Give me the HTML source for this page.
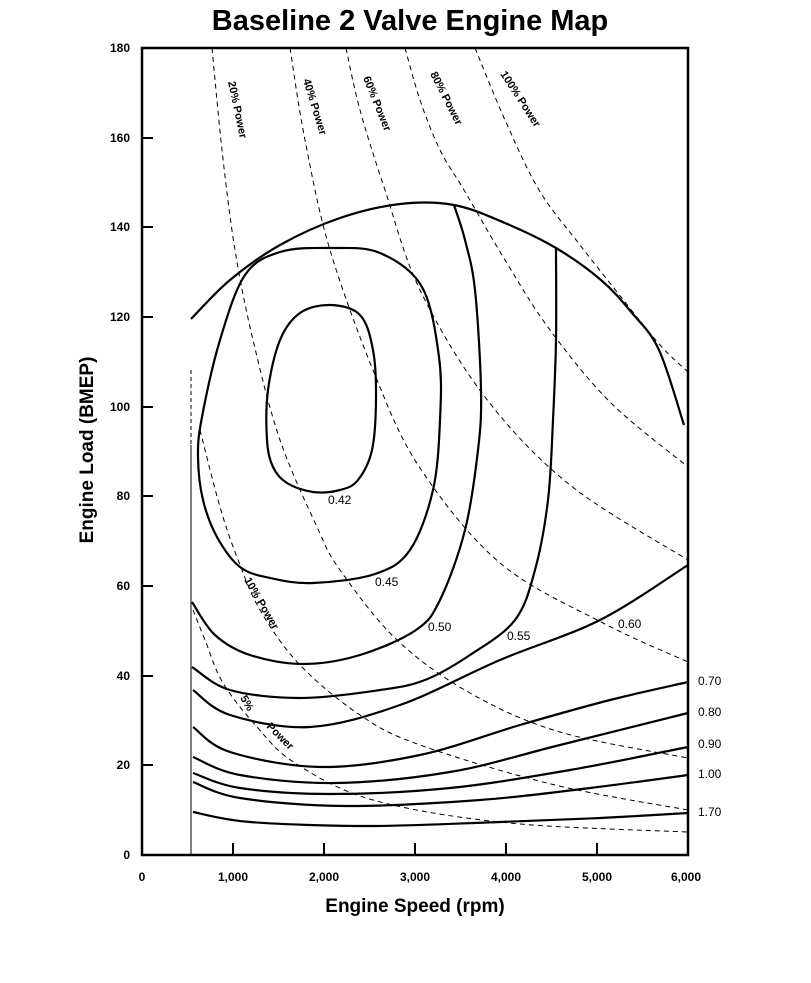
<!DOCTYPE html>
<html><head><meta charset="utf-8"><style>
html,body{margin:0;padding:0;background:#fff;}
svg{display:block;font-family:"Liberation Sans",Arial,sans-serif;}
</style></head><body>
<svg id="s" width="811" height="983" viewBox="0 0 811 983" xmlns="http://www.w3.org/2000/svg">
<rect width="811" height="983" fill="#fff"/>
<text x="410" y="30" font-size="29" font-weight="bold" text-anchor="middle">Baseline 2 Valve Engine Map</text>
<rect x="142" y="48" width="546" height="807" fill="none" stroke="#000" stroke-width="2.5"/>
<g stroke="#000" stroke-width="2">
<line x1="233" y1="855" x2="233" y2="843"/><line x1="324" y1="855" x2="324" y2="843"/>
<line x1="415" y1="855" x2="415" y2="843"/><line x1="506" y1="855" x2="506" y2="843"/>
<line x1="597" y1="855" x2="597" y2="843"/>
<line x1="142" y1="765" x2="153" y2="765"/><line x1="142" y1="676" x2="153" y2="676"/>
<line x1="142" y1="586" x2="153" y2="586"/><line x1="142" y1="496" x2="153" y2="496"/>
<line x1="142" y1="407" x2="153" y2="407"/><line x1="142" y1="317" x2="153" y2="317"/>
<line x1="142" y1="227" x2="153" y2="227"/><line x1="142" y1="138" x2="153" y2="138"/>
</g>
<g font-size="12" font-weight="bold" text-anchor="end">
<text x="130" y="859">0</text><text x="130" y="769">20</text><text x="130" y="680">40</text>
<text x="130" y="590">60</text><text x="130" y="500">80</text><text x="130" y="411">100</text>
<text x="130" y="321">120</text><text x="130" y="231">140</text><text x="130" y="142">160</text>
<text x="130" y="52">180</text>
</g>
<g font-size="12" font-weight="bold" text-anchor="middle">
<text x="142" y="881">0</text><text x="233" y="881">1,000</text><text x="324" y="881">2,000</text>
<text x="415" y="881">3,000</text><text x="506" y="881">4,000</text><text x="597" y="881">5,000</text>
<text x="686" y="881">6,000</text>
</g>
<text x="415" y="912" font-size="19" font-weight="bold" text-anchor="middle">Engine Speed (rpm)</text>
<text transform="translate(93,450) rotate(-90)" font-size="19" font-weight="bold" text-anchor="middle">Engine Load (BMEP)</text>
<line x1="191" y1="445" x2="191" y2="855" stroke="#000" stroke-width="1"/>
<line x1="191" y1="370" x2="191" y2="445" stroke="#000" stroke-width="1" stroke-dasharray="4,3"/>
<g id="dashed" fill="none" stroke="#000" stroke-width="1" stroke-dasharray="5,4"></g>
<g id="solid" fill="none" stroke="#000" stroke-width="2.2"></g>
<g font-size="12">
<text x="328" y="504">0.42</text><text x="375" y="586">0.45</text><text x="428" y="631">0.50</text>
<text x="507" y="640">0.55</text><text x="618" y="628">0.60</text>
<text x="698" y="685">0.70</text><text x="698" y="716">0.80</text><text x="698" y="748">0.90</text>
<text x="698" y="778">1.00</text><text x="698" y="816">1.70</text>
</g>
<g font-size="11" font-weight="bold">
<text transform="translate(228,82) rotate(78)">20% Power</text>
<text transform="translate(303,80) rotate(73)">40% Power</text>
<text transform="translate(363,78) rotate(68)">60% Power</text>
<text transform="translate(430,74) rotate(63)">80% Power</text>
<text transform="translate(500,74) rotate(57)">100% Power</text>
<text transform="translate(244,580) rotate(60)">10% Power</text>
<text transform="translate(240,698) rotate(60)">5%</text>
<text transform="translate(266,727) rotate(45)">Power</text>
</g>
</svg>
<script>
function cr(p,closed){
  var n=p.length,d="M"+p[0][0]+","+p[0][1];
  var get=function(i){ if(closed) return p[(i+n)%n]; return p[Math.max(0,Math.min(n-1,i))]; };
  var m=closed?n:n-1;
  for(var i=0;i<m;i++){
    var p0=get(i-1),p1=get(i),p2=get(i+1),p3=get(i+2);
    var c1x=p1[0]+(p2[0]-p0[0])/6,c1y=p1[1]+(p2[1]-p0[1])/6;
    var c2x=p2[0]-(p3[0]-p1[0])/6,c2y=p2[1]-(p3[1]-p1[1])/6;
    d+=" C"+c1x.toFixed(1)+","+c1y.toFixed(1)+" "+c2x.toFixed(1)+","+c2y.toFixed(1)+" "+p2[0]+","+p2[1];
  }
  if(closed) d+="Z";
  return d;
}
var NS="http://www.w3.org/2000/svg";
function add(g,pts,closed){var e=document.createElementNS(NS,"path");e.setAttribute("d",cr(pts,closed));document.getElementById(g).appendChild(e);}
var dashed=[
[[475,48],[505,120],[539,190],[580,245],[621,297],[660,345],[688,372]],
[[405,48],[420,100],[440,150],[464,190],[505,260],[550,330],[611,403],[688,467]],
[[346,48],[360,110],[385,190],[420,290],[485,397],[570,485],[688,560]],
[[290,48],[305,140],[330,250],[375,375],[420,468],[500,563],[603,623],[688,662]],
[[212,48],[222,150],[235,250],[253,340],[280,440],[317,527],[340,570],[397,640],[470,693],[560,732],[688,758]],
[[200,430],[220,507],[237,557],[260,610],[300,665],[360,715],[420,745],[555,785],[688,810]],
[[193,610],[205,640],[223,683],[257,727],[295,763],[373,800],[509,823],[688,832]]
];
dashed.forEach(function(p){add("dashed",p,false);});
var solid=[
[[191,319],[230,280],[280,245],[340,218],[400,204],[454,205],[505,223],[556,248],[601,280],[632,313],[659,350],[684,425]],
[[192,602],[215,635],[250,655],[303,664],[360,655],[416,630],[440,600],[465,530],[478,450],[481,390],[475,290],[465,240],[454,205]],
[[192,667],[230,690],[300,698],[380,690],[425,680],[470,655],[515,620],[535,570],[548,500],[553,420],[556,340],[556,248]],
[[193,690],[230,715],[310,727],[400,705],[500,660],[600,620],[688,565]],
[[193,727],[230,752],[320,767],[420,755],[520,725],[610,700],[688,682]],
[[193,757],[240,775],[335,783],[450,772],[560,745],[688,713]],
[[193,773],[240,788],[330,794],[450,788],[570,770],[688,747]],
[[193,782],[240,798],[345,806],[480,800],[590,788],[688,775]],
[[193,812],[250,822],[370,826],[500,822],[600,818],[688,813]]
];
solid.forEach(function(p){add("solid",p,false);});
add("solid",[[330,248],[380,253],[422,287],[439,357],[440,420],[433,490],[410,550],[375,574],[313,583],[270,578],[240,567],[217,537],[203,500],[198,457],[202,417],[220,340],[245,275],[280,252]],true);
add("solid",[[330,305],[360,315],[373,350],[376,400],[372,450],[358,480],[340,490],[313,492],[287,483],[273,467],[267,440],[268,390],[280,340],[300,313]],true);
</script>
</body></html>
